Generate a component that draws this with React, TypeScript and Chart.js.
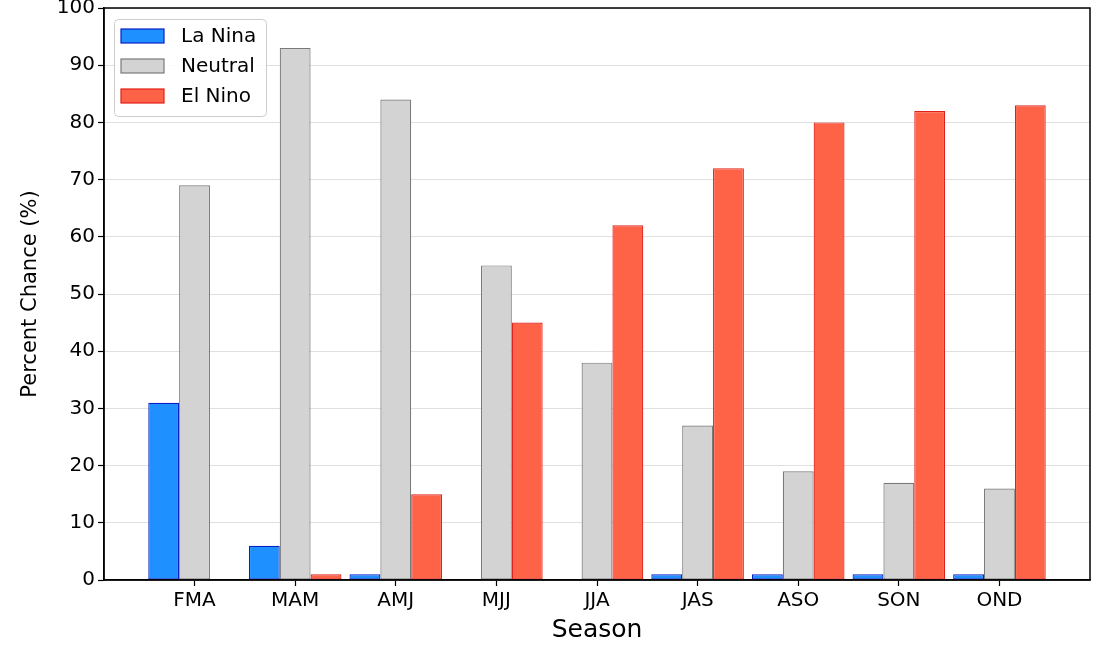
import React, { useEffect, useRef } from "react";
import { Chart, registerables } from "chart.js";

Chart.register(...registerables);

const seasons = ["FMA", "MAM", "AMJ", "MJJ", "JJA", "JAS", "ASO", "SON", "OND"];
const laNina = [31, 6, 1, 0, 0, 1, 1, 1, 1];
const neutral = [69, 93, 84, 55, 38, 27, 19, 17, 16];
const elNino = [0, 1, 15, 45, 62, 72, 80, 82, 83];
const yTicks = [0, 10, 20, 30, 40, 50, 60, 70, 80, 90, 100];

const seriesMeta = [
  { label: "La Nina", data: laNina, fill: "#1E90FF", border: "#0A1FC8" },
  { label: "Neutral", data: neutral, fill: "#D3D3D3", border: "#7A7A7A" },
  { label: "El Nino", data: elNino, fill: "#FF6347", border: "#E0201A" },
];

const FONT = "'DejaVu Sans', sans-serif";

const framePlugin = {
  id: "frameAndLegend",
  afterDraw(chart: any) {
    const { ctx, chartArea } = chart;
    ctx.save();
    ctx.strokeStyle = "#000";
    ctx.lineWidth = 1.5;
    ctx.strokeRect(chartArea.left, chartArea.top, chartArea.right - chartArea.left, chartArea.bottom - chartArea.top);
    // legend
    const lx = chartArea.left + 10;
    const ly = chartArea.top + 11;
    const lw = 152;
    const lh = 97;
    ctx.fillStyle = "rgba(255,255,255,0.85)";
    ctx.strokeStyle = "#cccccc";
    ctx.lineWidth = 1;
    ctx.beginPath();
    (ctx as any).roundRect(lx + 0.5, ly + 0.5, lw, lh, 4);
    ctx.fill();
    ctx.stroke();
    ctx.font = `20px ${FONT}`;
    ctx.textBaseline = "middle";
    ctx.textAlign = "left";
    seriesMeta.forEach((s, i) => {
      const cy = ly + 17 + i * 30;
      ctx.fillStyle = s.fill;
      ctx.fillRect(lx + 7, cy - 7, 43, 14);
      ctx.strokeStyle = s.border;
      ctx.lineWidth = 1.2;
      ctx.strokeRect(lx + 7, cy - 7, 43, 14);
      ctx.fillStyle = "#000";
      ctx.fillText(s.label, lx + 67, cy + 1);
    });
    ctx.restore();
  },
};

export default function App() {
  const ref = useRef<HTMLCanvasElement>(null);
  useEffect(() => {
    document.body.style.margin = "0";
    const chart = new Chart(ref.current!, {
      type: "bar",
      data: {
        datasets: seriesMeta.map((s) => ({
          label: s.label,
          data: s.data.map((v, i) => ({ x: i, y: v })),
          backgroundColor: s.fill,
          borderColor: s.border,
          borderWidth: 1.2,
          borderSkipped: false,
          categoryPercentage: 0.92,
          barPercentage: 1.0,
        })),
      },
      plugins: [framePlugin],
      options: {
        responsive: false,
        animation: false,
        layout: { padding: { left: 0, top: 0, right: 24, bottom: 0 } },
        plugins: { legend: { display: false }, tooltip: { enabled: false } },
        scales: {
          x: {
            type: "linear",
            offset: false,
            min: -0.9,
            max: 8.9,
            afterBuildTicks: (scale: any) => {
              scale.ticks = seasons.map((_, i) => ({ value: i }));
            },
            afterFit: (scale: any) => {
              scale.height = 78;
            },
            ticks: {
              callback: (v: any) => seasons[v as number] ?? "",
              font: { family: FONT, size: 20 },
              color: "#000",
              padding: 3,
              autoSkip: false,
              maxRotation: 0,
            },
            grid: { offset: false, drawOnChartArea: false, drawTicks: true, tickLength: 6, tickColor: "#000", tickWidth: 1.2 },
            border: { display: true, color: "#000", width: 1.5 },
            title: { display: true, text: "Season", font: { family: FONT, size: 25 }, color: "#000", padding: { top: 0, bottom: 13 } },
          },
          y: {
            min: 0,
            max: 100,
            afterBuildTicks: (scale: any) => {
              scale.ticks = yTicks.map((v) => ({ value: v }));
            },
            afterFit: (scale: any) => {
              scale.width = 104;
            },
            ticks: {
              font: { family: FONT, size: 20 },
              color: "#000",
              padding: 3,
            },
            grid: { color: "#e0e0e0", lineWidth: 1, drawTicks: true, tickLength: 6, tickColor: "#000", tickWidth: 1.2 },
            border: { display: true, color: "#000", width: 1.5 },
            title: { display: true, text: "Percent Chance (%)", font: { family: FONT, size: 21 }, color: "#000", padding: { top: 18, bottom: 0 } },
          },
        },
      },
    } as any);
    return () => chart.destroy();
  }, []);
  return (
    <div style={{ width: 1114, height: 658, overflow: "hidden" }}>
      <canvas ref={ref} width={1114} height={665} style={{ display: "block", marginTop: -7 }} />
    </div>
  );
}
